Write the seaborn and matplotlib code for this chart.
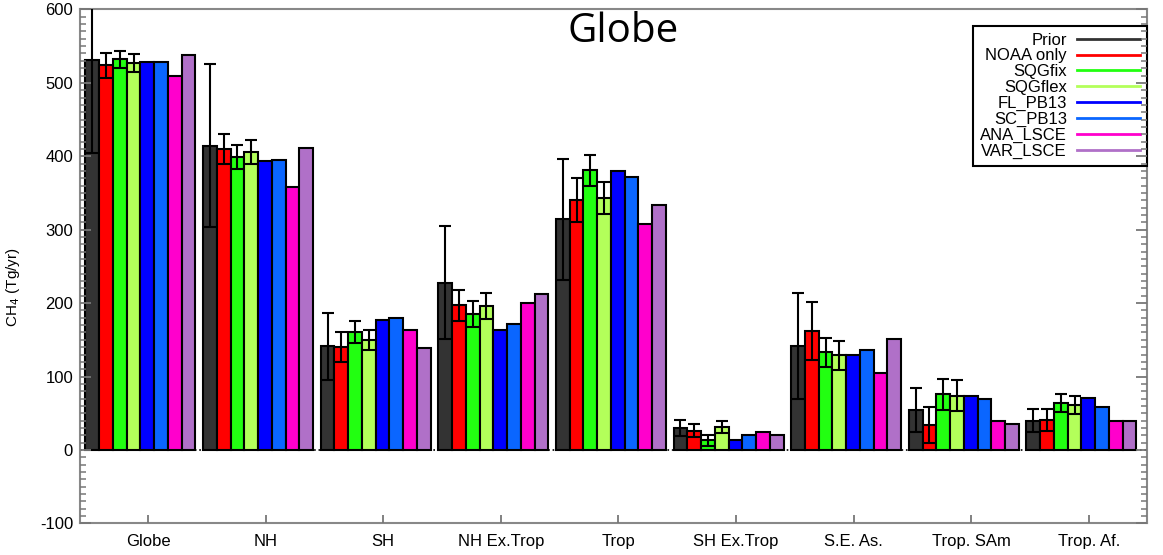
import numpy as np
import pandas as pd
import matplotlib
matplotlib.use("Agg")
import matplotlib.pyplot as plt
from matplotlib.lines import Line2D
from matplotlib.ticker import MultipleLocator
import seaborn as sns

regions = ["Globe", "NH", "SH", "NH Ex.Trop", "Trop", "SH Ex.Trop",
           "S.E. As.", "Trop. SAm", "Trop. Af."]
models = ["Prior", "NOAA only", "SQGfix", "SQGflex", "FL_PB13", "SC_PB13",
          "ANA_LSCE", "VAR_LSCE"]
colors = ["#333333", "#ff0000", "#22ff11", "#b3ff5a", "#0000ff", "#0a66ff",
          "#ff00cc", "#b070c8"]

# emissions (Tg/yr), one list per model, in region order
prior = [531, 414, 141, 228, 314, 30, 142, 54, 40]
noaa = [524, 410, 140, 197, 340, 26, 162, 34, 41]
sqgfix = [532, 399, 161, 185, 381, 13, 133, 76, 64]
sqgflex = [527, 406, 150, 196, 343, 31, 129, 74, 61]
fl_pb13 = [528, 393, 177, 164, 380, 14, 130, 74, 71]
sc_pb13 = [528, 395, 180, 171, 372, 20, 136, 70, 58]
ana_lsce = [510, 358, 163, 200, 308, 25, 105, 40, 39]
var_lsce = [538, 411, 139, 213, 334, 21, 151, 35, 39]

# uncertainties (only for first four models)
prior_err = [126, 111, 46, 77, 82, 11, 72, 30, 16]
noaa_err = [17, 21, 20, 21, 30, 9, 39, 24, 15]
sqgfix_err = [12, 16, 15, 18, 21, 8, 20, 21, 12]
sqgflex_err = [12, 16, 14, 18, 22, 8, 20, 21, 12]

values = [prior, noaa, sqgfix, sqgflex, fl_pb13, sc_pb13, ana_lsce, var_lsce]
errors = [prior_err, noaa_err, sqgfix_err, sqgflex_err, None, None, None, None]

rows = []
for m, vals in zip(models, values):
    for r, v in zip(regions, vals):
        rows.append({"region": r, "model": m, "value": v})
df = pd.DataFrame(rows)

plt.rcParams.update({
    "font.family": ["Liberation Sans", "DejaVu Sans"],
    "axes.unicode_minus": False,
    "axes.edgecolor": "#888888", "axes.linewidth": 1.5,
})

fig = plt.figure(figsize=(11.63, 5.55), dpi=100)
rect = [0.0688, 0.057, 0.9174, 0.926]
ax = fig.add_axes(rect)

sns.barplot(data=df, x="region", y="value", hue="model", order=regions,
            hue_order=models, palette=colors, width=0.935, gap=0,
            saturation=1, edgecolor="black", linewidth=1.5,
            errorbar=None, legend=False, ax=ax)

# error bars on top of bars
for cont, err in zip(ax.containers, errors):
    if err is None:
        continue
    xs = [p.get_x() + p.get_width() / 2 for p in cont]
    hs = [p.get_height() for p in cont]
    ax.errorbar(xs, hs, yerr=err, fmt="none", ecolor="black",
                elinewidth=1.5, capsize=4, capthick=1.5, zorder=3)

ax.axhline(0, color="black", ls=":", lw=1.2, zorder=0.5)

ax.set_ylim(-100, 600)
ax.set_xlim(-0.514, 8.557)
ax.set_xticks(np.arange(len(regions)) + 0.064)
ax.set_xticklabels(regions, fontsize=12)
ax.yaxis.set_major_locator(MultipleLocator(100))
ax.yaxis.set_minor_locator(MultipleLocator(10))
ax.tick_params(axis="y", labelsize=12, pad=5, length=0)
ax.tick_params(axis="y", which="minor", length=0)
ax.tick_params(axis="x", pad=8, length=0)

ax.set_xlabel("")
ax.set_ylabel("CH$_4$ (Tg/yr)", fontsize=11)
ax.yaxis.set_label_coords(-0.054, 0.46)

ax.text(0.509, 0.956, "Globe", transform=ax.transAxes, ha="center",
        va="center", fontsize=29, color="black",
        family=["Open Sans", "DejaVu Sans"])

handles = [Line2D([0], [0], color=c, lw=2) for c in colors]
leg = ax.legend(handles, models, loc="upper right", bbox_to_anchor=(1.0, 0.968),
                markerfirst=False, fontsize=12, handlelength=3.8,
                labelspacing=0.05, borderaxespad=0, fancybox=False,
                framealpha=1, edgecolor="black", borderpad=0.4,
                handletextpad=0.6)
leg.get_frame().set_linewidth(1.5)

# transparent overlay axes that only carries the inward tick marks
tax = fig.add_axes(rect, sharex=ax, sharey=ax)
tax.set_zorder(ax.get_zorder() + 1)
tax.patch.set_alpha(0)
for s in tax.spines.values():
    s.set_visible(False)
tax.tick_params(axis="y", which="major", direction="in", length=8, width=1.3,
                left=True, right=True, labelleft=False, labelright=False,
                color="#777777")
tax.tick_params(axis="y", which="minor", direction="in", length=4, width=1.1,
                left=True, right=True, color="#777777")
tax.tick_params(axis="x", which="major", direction="in", length=6, width=1.3,
                bottom=True, top=False, labelbottom=False, color="#777777")
tax.tick_params(axis="x", which="minor", bottom=False, top=False)
tax.set_xlabel("")
tax.set_ylabel("")

fig.savefig("out.png", dpi=100)
